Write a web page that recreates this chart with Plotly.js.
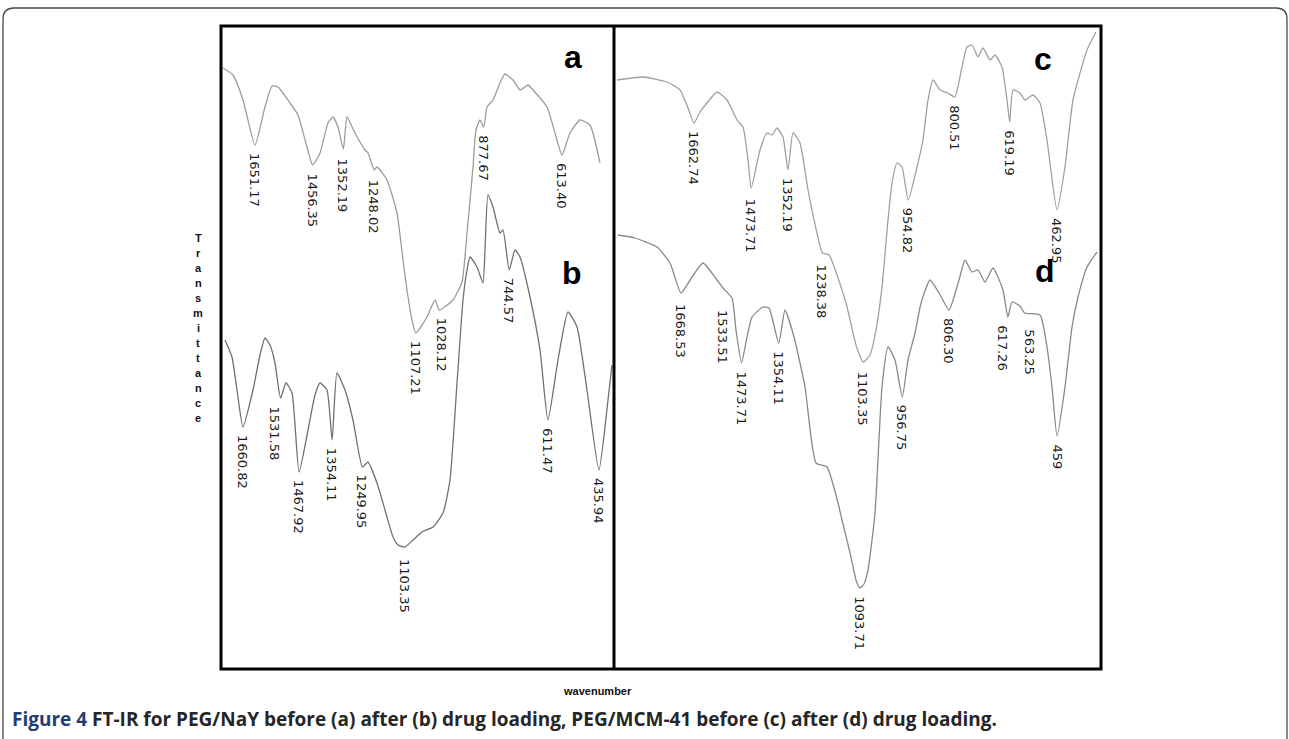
<!DOCTYPE html>
<html>
<head>
<meta charset="utf-8">
<script src="https://cdn.plot.ly/plotly-3.0.1.min.js"></script>
<style>
  html, body { margin: 0; padding: 0; background: #ffffff; }
  #chart { width: 1289px; height: 739px; }
</style>
</head>
<body>
<div id="chart"></div>
<script>
// FT-IR spectra: wavenumber (cm-1) against transmittance (arbitrary units)

// (a) PEG/NaY before drug loading
const wnA = [1759.4,1725.6,1691.7,1651.17,1617.4,1593.7,1573.4,1532.8,1505.8,1475.4,1456.35,1431.4,1404.4,1387.5,1370.6,1352.19,1340.1,1313.1,1279.3,1269.1,1248.02,1238.7,1204.9,1171.1,1150.8,1137.3,1120.4,1107.21,1069.7,1042.6,1028.12,981.8,951.3,934.4,914.1,904.0,890.5,877.67,866.8,846.5,822.9,805.9,778.9,755.2,728.2,711.3,663.9,636.9,613.40,586.2,552.4,518.6,484.8];
const tA  = [60.1,59.4,56.9,52.4,56.2,58.3,58.2,56.6,55.4,52.2,50.4,51.6,54.6,55.2,54.2,52.0,55.2,53.6,51.9,51.6,49.9,50.2,48.9,45.6,40.9,37.9,34.9,33.6,35.2,36.9,35.9,36.9,38.7,43.6,50.2,53.9,54.9,54.2,56.2,56.9,58.6,59.5,58.9,57.9,58.4,57.9,56.2,53.6,51.4,53.6,54.9,54.4,50.6];
const peaksA = [1651.17,1456.35,1352.19,1248.02,1107.21,1028.12,877.67,613.40];

// (b) PEG/NaY after drug loading
const wnB = [1722.7,1698.7,1681.5,1660.82,1626.4,1602.3,1585.1,1567.9,1550.7,1531.58,1512.8,1492.2,1467.92,1437.1,1413.0,1395.8,1371.8,1354.11,1337.3,1309.8,1282.3,1249.95,1230.7,1199.7,1172.2,1144.6,1127.4,1103.35,1075.8,1044.8,1007.0,972.6,948.5,924.4,903.8,890.0,879.7,855.6,835.0,828.1,817.8,800.5,776.5,766.1,744.57,724.8,707.6,673.2,638.8,611.47,576.9,542.5,511.5,477.1,435.94,404.8,391.1];
const tB  = [32.9,31.2,27.9,24.2,27.9,31.4,33.1,32.4,30.6,27.1,28.6,27.6,19.7,23.9,27.4,28.6,27.9,22.9,29.6,27.9,24.9,20.2,20.7,18.6,15.9,13.2,12.4,12.2,12.9,13.7,14.2,15.6,18.9,28.6,36.9,39.9,41.2,40.2,38.6,41.9,47.4,46.2,43.6,43.9,39.9,41.9,41.2,37.2,31.9,24.9,30.9,35.7,34.2,27.9,19.9,26.9,30.4];
const peaksB = [1660.82,1531.58,1467.92,1354.11,1249.95,1103.35,744.57,611.47,435.94];

// (c) PEG/MCM-41 before drug loading
const wnC = [1917.2,1831.3,1751.9,1709.0,1682.6,1662.74,1642.9,1619.8,1586.7,1553.7,1520.6,1500.8,1484.2,1473.71,1444.6,1421.5,1404.9,1388.4,1368.6,1352.19,1335.5,1312.4,1285.9,1256.2,1238.38,1216.5,1160.3,1127.2,1103.35,1081.0,1061.2,1041.3,1021.5,1008.3,991.7,975.2,954.82,925.6,905.8,889.3,872.7,849.6,823.2,800.51,776.9,760.4,743.8,724.0,707.5,684.3,667.8,644.7,628.1,619.19,608.3,585.2,568.6,542.2,519.1,495.9,462.95,436.4,410.0,363.7,334.0];
const tC  = [58.9,59.2,58.7,57.9,56.1,54.6,55.7,56.6,57.7,56.9,54.9,54.2,50.9,48.1,51.9,53.6,53.4,54.1,53.2,49.9,53.6,52.6,47.9,43.6,41.6,41.4,36.6,32.4,30.7,31.4,33.9,38.2,44.9,48.6,50.6,50.2,46.9,50.2,52.9,56.9,58.9,57.9,57.6,57.2,60.2,62.2,62.4,61.2,62.1,60.9,61.4,60.2,56.9,54.7,57.9,57.6,56.9,57.4,56.6,52.9,45.9,50.2,56.9,61.9,63.7];
const peaksC = [1662.74,1473.71,1352.19,1238.38,1103.35,954.82,800.51,619.19,462.95];

// (d) PEG/MCM-41 after drug loading
const wnD = [1871.1,1816.5,1745.7,1703.9,1668.53,1633.1,1597.7,1552.7,1533.51,1504.5,1491.6,1473.71,1456.2,1440.1,1404.7,1385.5,1354.11,1334.0,1305.0,1269.7,1234.3,1198.9,1163.5,1150.6,1121.7,1105.6,1093.71,1079.9,1067.0,1044.5,1022.0,1002.7,980.2,956.75,938.4,915.8,896.5,867.6,838.6,806.30,774.3,755.0,732.5,713.2,690.7,665.0,632.8,617.26,603.8,578.1,563.25,513.8,491.3,475.2,459,433.4,410.8,391.5,362.5,330.4];
const tD  = [43.4,43.1,42.2,40.6,37.6,39.2,40.6,38.9,38.1,37.1,33.9,30.6,33.2,35.2,36.2,36.1,32.6,35.9,33.2,28.2,20.6,20.2,16.6,14.9,11.2,8.9,8.1,8.5,9.9,15.6,28.2,32.2,30.9,27.2,30.9,33.6,36.6,38.9,37.6,35.9,38.9,40.9,39.7,39.9,38.7,40.1,37.9,35.2,36.7,36.3,35.6,35.4,32.2,28.2,23.3,28.2,34.2,37.2,40.2,41.7];
const peaksD = [1668.53,1533.51,1473.71,1354.11,1093.71,956.75,806.30,617.26,563.25,459];

const axisTitleY = "Transmittance";
const axisTitleX = "wavenumber";
const captionLead = "Figure 4";
const captionBody = "FT-IR for PEG/NaY before (a) after (b) drug loading, PEG/MCM-41 before (c) after (d) drug loading.";

// ---- page geometry (pixels of the 1289 x 739 canvas) ----
const W = 1289, H = 739;
const px = v => v / W;
const py = v => 1 - v / H;

const leftDom  = [px(221), px(613)];
const rightDom = [px(615), px(1101)];
const yDom     = [py(669), py(26)];

function hidden(extra) {
  return Object.assign({
    showgrid: false, zeroline: false, showline: false,
    showticklabels: false, ticks: "", fixedrange: true
  }, extra);
}

const series = [
  { name: "a", wn: wnA, t: tA, peaks: peaksA, xa: "x",  ya: "y",  color: "#9c9c9c" },
  { name: "b", wn: wnB, t: tB, peaks: peaksB, xa: "x2", ya: "y",  color: "#707070" },
  { name: "c", wn: wnC, t: tC, peaks: peaksC, xa: "x3", ya: "y2", color: "#a0a0a0" },
  { name: "d", wn: wnD, t: tD, peaks: peaksD, xa: "x4", ya: "y2", color: "#888888" }
];

const traces = series.map(s => ({
  type: "scatter", mode: "lines",
  x: s.wn, y: s.t, xaxis: s.xa, yaxis: s.ya,
  line: { color: s.color, width: 1.3, shape: "spline", smoothing: 0.5 },
  hoverinfo: "skip", showlegend: false
}));

// fine placement of a few crowded peak labels (px)
const labelGap = { "b1103.35": 10, "c1473.71": 9, "c1238.38": 10, "c1103.35": 8,
                   "d1533.51": 20, "d563.25": 14, "d1668.53": 9, "a1352.19": 8, "a1248.02": 8 };
const labelShift = { "b1531.58": -6, "a1028.12": 3, "d617.26": -5, "d563.25": 5 };

const fmt = v => Number.isInteger(v) ? String(v) : v.toFixed(2);

const annotations = [];
series.forEach(s => {
  s.peaks.forEach(p => {
    const i = s.wn.indexOf(p);
    const key = s.name + fmt(p);
    annotations.push({
      xref: s.xa, yref: s.ya, x: p, y: s.t[i],
      text: fmt(p), showarrow: false, textangle: 90,
      xanchor: "center", yanchor: "top",
      yshift: -(labelGap[key] !== undefined ? labelGap[key] : 6),
      xshift: labelShift[key] || 0,
      font: { family: "DejaVu Sans", size: 13, color: "#1a1a1a" }
    });
  });
});

// panel letters
const letterPos = { a: [573, 57], b: [572, 273], c: [1043, 59], d: [1045, 271] };
series.forEach(s => {
  annotations.push({
    xref: "paper", yref: "paper", x: px(letterPos[s.name][0]), y: py(letterPos[s.name][1]),
    text: "<b>" + s.name + "</b>", showarrow: false, xanchor: "center", yanchor: "middle",
    font: { family: "Liberation Sans", size: 32, color: "#000" }
  });
});

// stacked y-axis title
axisTitleY.split("").forEach((ch, i) => {
  annotations.push({
    xref: "paper", yref: "paper", x: px(198), y: py(238 + 15 * i),
    text: "<b>" + ch + "</b>", showarrow: false, xanchor: "center", yanchor: "middle",
    font: { family: "Liberation Sans", size: 11, color: "#111" }
  });
});

annotations.push({
  xref: "paper", yref: "paper", x: px(597), y: py(691),
  text: "<b>" + axisTitleX + "</b>", showarrow: false, xanchor: "center", yanchor: "middle",
  font: { family: "Liberation Sans", size: 11, color: "#111" }
});

annotations.push({
  xref: "paper", yref: "paper", x: px(10), y: py(719),
  text: "<b><span style='color:#1d3f73'>" + captionLead + "</span> " + captionBody + "</b>",
  showarrow: false, xanchor: "left", yanchor: "middle",
  font: { family: "Open Sans", size: 19, color: "#262626" }
});

const shapes = [
  // outer rounded frame
  { type: "path", xref: "paper", yref: "paper",
    path: `M ${px(3)},${py(745)} L ${px(3)},${py(19)} Q ${px(3)},${py(8)} ${px(14)},${py(8)} ` +
          `L ${px(1276)},${py(8)} Q ${px(1287)},${py(8)} ${px(1287)},${py(19)} L ${px(1287)},${py(745)}`,
    line: { color: "#4a4a4a", width: 1.3 } },
  // panel boxes
  { type: "rect", xref: "paper", yref: "paper", x0: px(221), x1: px(1101), y0: py(669), y1: py(26),
    line: { color: "#000", width: 3 } },
  { type: "line", xref: "paper", yref: "paper", x0: px(614), x1: px(614), y0: py(669), y1: py(26),
    line: { color: "#000", width: 3 } }
];

const layout = {
  width: W, height: H,
  margin: { l: 0, r: 0, t: 0, b: 0 },
  paper_bgcolor: "#ffffff", plot_bgcolor: "rgba(0,0,0,0)",
  showlegend: false,
  xaxis:  hidden({ domain: leftDom,  range: [1766.1, 440.8], anchor: "y" }),
  xaxis2: hidden({ overlaying: "x",  range: [1736.5, 387.6], anchor: "y" }),
  xaxis3: hidden({ domain: rightDom, range: [1923.9, 317.4], anchor: "y2" }),
  xaxis4: hidden({ overlaying: "x3", range: [1880.8, 317.6], anchor: "y2" }),
  yaxis:  hidden({ domain: yDom, range: [0, 64.3], anchor: "x" }),
  yaxis2: hidden({ domain: yDom, range: [0, 64.3], anchor: "x3" }),
  annotations: annotations,
  shapes: shapes
};

Plotly.newPlot("chart", traces, layout, { staticPlot: true, displayModeBar: false });
</script>
</body>
</html>
